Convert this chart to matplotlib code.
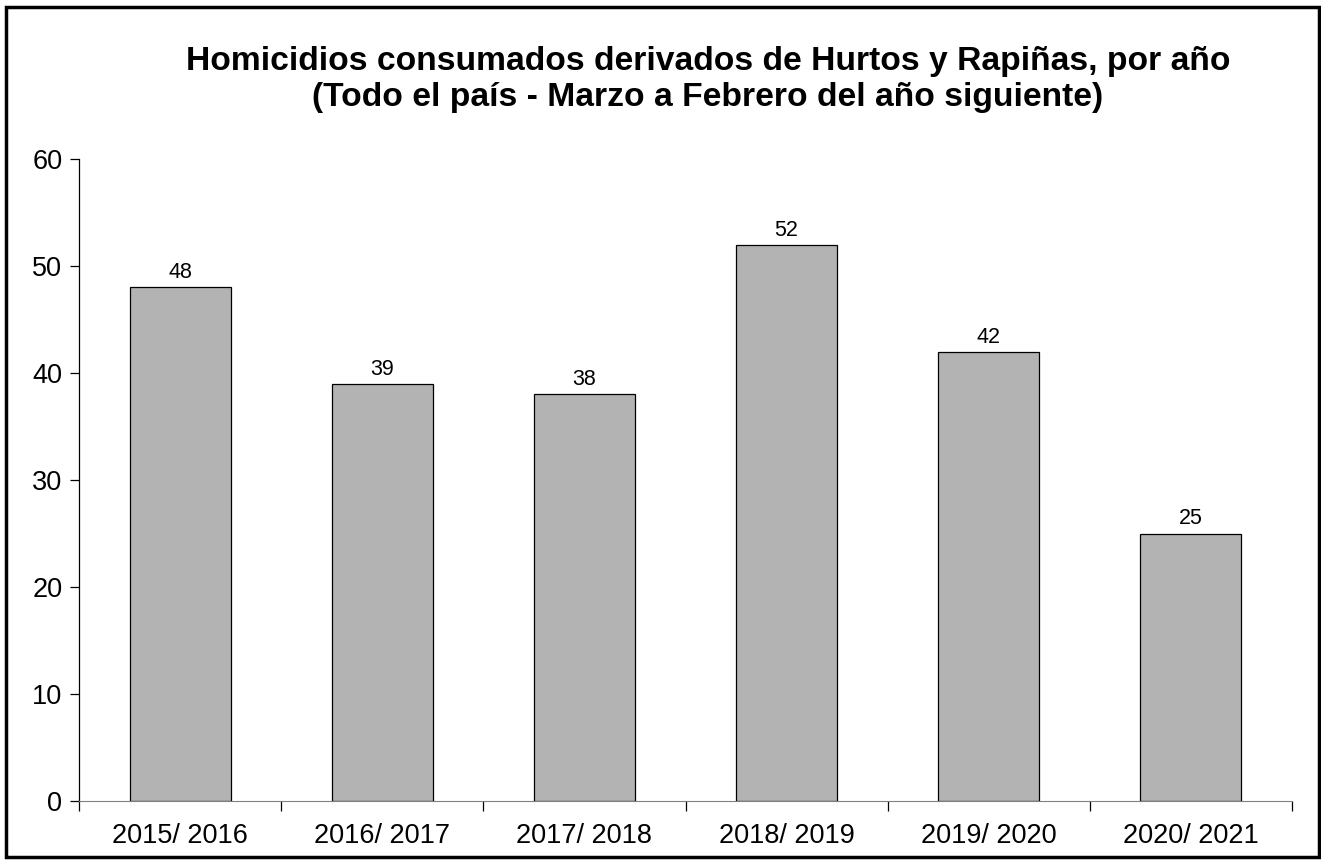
import matplotlib
matplotlib.use("Agg")
import matplotlib.pyplot as plt
from matplotlib.patches import Rectangle

plt.rcParams['font.family'] = ['Liberation Sans', 'DejaVu Sans']

# Data
periods = ["2015/ 2016", "2016/ 2017", "2017/ 2018", "2018/ 2019", "2019/ 2020", "2020/ 2021"]
homicidios = [48, 39, 38, 52, 42, 25]
title_lines = ["Homicidios consumados derivados de Hurtos y Rapiñas, por año",
               "(Todo el país - Marzo a Febrero del año siguiente)"]

W, H = 1321, 860
fig = plt.figure(figsize=(W / 100, H / 100), dpi=100)
ax = fig.add_axes([79 / W, 1 - 801 / H, (1292 - 79) / W, (801 - 159) / H])

x = list(range(len(periods)))
ax.bar(x, homicidios, width=0.5, color="#b3b3b3", edgecolor="black", linewidth=0.9)

for xi, v in zip(x, homicidios):
    ax.annotate(str(v), (xi, v), xytext=(0, 6.5), textcoords="offset points",
                ha="center", va="baseline", fontsize=15.5)

ax.set_xlim(-0.5, len(periods) - 0.5)
ax.set_ylim(0, 60)
ax.set_yticks(range(0, 61, 10))
ax.tick_params(axis="y", direction="out", length=6.5, width=0.9, labelsize=19.5, pad=5.5)

# category labels centred, ticks between the categories
ax.set_xticks(x)
ax.set_xticklabels(periods, fontsize=19.5)
ax.tick_params(axis="x", which="major", length=0, pad=16)
ax.set_xticks([i - 0.5 for i in range(len(periods) + 1)], minor=True)
ax.tick_params(axis="x", which="minor", direction="out", length=7, width=0.9)

for side in ["top", "right"]:
    ax.spines[side].set_visible(False)
ax.spines["bottom"].set_color("#808080")
ax.spines["left"].set_color("black")
ax.spines["left"].set_linewidth(0.9)

# title as two centred lines, sized to the width of the original first line
t1 = fig.text(708 / W, 1 - 70 / H, title_lines[0], ha="center", va="baseline",
              fontsize=20, fontweight="bold")
t2 = fig.text(708 / W, 1 - 106 / H, title_lines[1], ha="center", va="baseline",
              fontsize=20, fontweight="bold")
fig.canvas.draw()
w1 = t1.get_window_extent().width
size = 20 * 1043 / w1
t1.set_fontsize(size)
t2.set_fontsize(size)

# black frame round the whole picture
fig.patches.append(Rectangle((6 / W, 3 / H), 1313 / W, 850 / H, transform=fig.transFigure,
                             fill=False, edgecolor="black", linewidth=2.5))

fig.savefig("out.png", dpi=100)
